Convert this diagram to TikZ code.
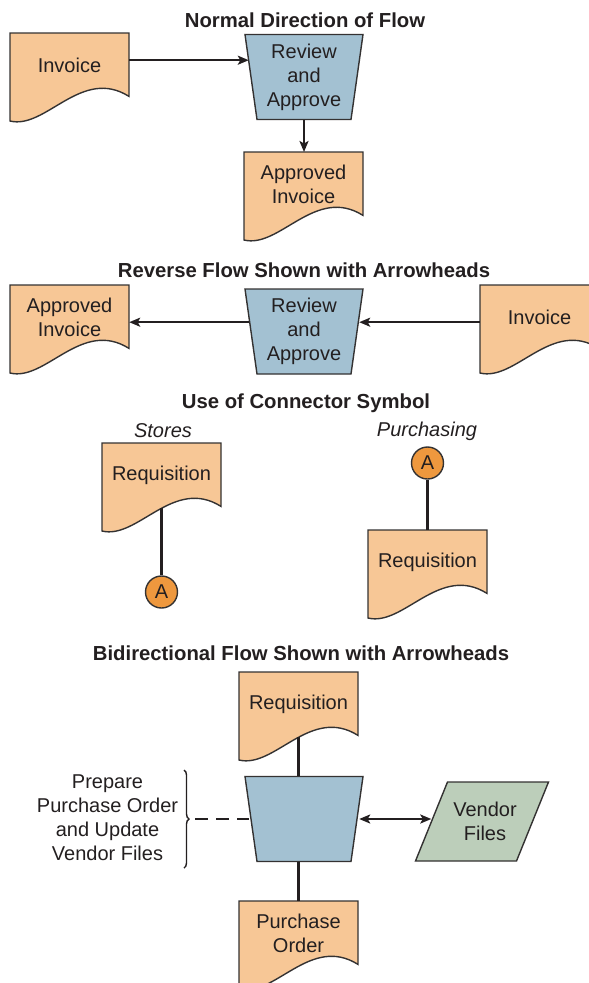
\documentclass[tikz,border=0pt]{standalone}
\usepackage{fontspec}
\setmainfont{Liberation Sans}
\usetikzlibrary{arrows.meta,decorations.pathreplacing}

\definecolor{docpeach}{RGB}{247,199,150}
\definecolor{procblue}{RGB}{163,193,210}
\definecolor{filegreen}{RGB}{188,206,186}
\definecolor{connorange}{RGB}{238,152,62}
\definecolor{edge}{RGB}{52,50,50}
\definecolor{ink}{RGB}{35,31,32}

\tikzset{
  shapeline/.style={draw=edge, line width=1.4pt},
  txt/.style={text=ink, font=\fontsize{20}{24}\selectfont, align=center, inner sep=0pt},
  heading/.style={text=ink, font=\bfseries\fontsize{20.3}{24}\selectfont, inner sep=0pt},
  dept/.style={text=ink, font=\itshape\fontsize{20}{24}\selectfont, inner sep=0pt},
  docbox/.style={txt, minimum width=119pt, minimum height=65pt, anchor=north},
  procbox/.style={txt, minimum width=110pt, minimum height=85pt},
  filebox/.style={txt, minimum width=107pt, minimum height=79pt},
  onpage/.style={txt, circle, draw=edge, line width=1.4pt, fill=connorange, minimum size=32pt},
  tip/.tip={Stealth[length=11pt,width=9pt,inset=2.5pt]},
  conn/.style={draw=ink, line width=2.4pt},
  flow/.style={conn, -tip},
  biflow/.style={conn, tip-tip},
}

% document symbol: name, top-left corner, text
\newcommand\docshape[3]{%
  \begin{scope}[shift={#2}]
    \path[shapeline, fill=docpeach] (0,0) -- (119,0) -- (119,63.4)
      .. controls (71.4,33.4) and (35.7,96.8) .. (0,88) -- cycle;
    \node[docbox] (#1) at (59.5,0) {#3};
  \end{scope}}

% manual operation symbol: name, centre, text
\newcommand\procshape[3]{%
  \begin{scope}[shift={#2}]
    \path[shapeline, fill=procblue] (-59,-42.5) -- (59,-42.5) -- (47,42.5) -- (-47,42.5) -- cycle;
    \node[procbox] (#1) at (0,0) {#3};
  \end{scope}}

\begin{document}
\begin{tikzpicture}[x=1pt, y=-1pt]
  \useasboundingbox (0,0) rectangle (589,983);

  % ---- normal direction of flow
  \node[heading] (t1) at (305,20) {Normal Direction of Flow};
  \docshape{inv1}{(10,33)}{Invoice}
  \procshape{ra1}{(304,77)}{Review\\and\\Approve}
  \docshape{ai1}{(244,152)}{Approved\\Invoice}
  \draw[flow] ([yshift=5.5pt]inv1.east) -- ([yshift=5.5pt]inv1.east -| ra1.west);
  \draw[flow] (ra1.south) -- (ra1.south |- ai1.north);

  % ---- reverse flow
  \node[heading] (t2) at (304,270) {Reverse Flow Shown with Arrowheads};
  \docshape{ai2}{(10,285)}{Approved\\Invoice}
  \procshape{ra2}{(304,331.5)}{Review\\and\\Approve}
  \docshape{inv2}{(480,285)}{Invoice}
  \draw[flow] ([yshift=-4.5pt]inv2.west) -- ([yshift=-4.5pt]inv2.west -| ra2.east);
  \draw[flow] ([yshift=-4.5pt]ai2.east -| ra2.west) -- ([yshift=-4.5pt]ai2.east);

  % ---- connector symbol
  \node[heading] (t3) at (306,403) {Use of Connector Symbol};
  \node[dept] (st) at (163,431) {Stores};
  \node[dept] (pu) at (427,431) {Purchasing};
  \docshape{sreq}{(102,443)}{Requisition}
  \node[onpage] (ca1) at (161.5,592) {A};
  \draw[conn] (sreq.south) -- (sreq.south |- ca1.north);
  \node[onpage] (ca2) at (427.5,463) {A};
  \docshape{preq}{(368,530)}{Requisition}
  \draw[conn] (ca2.south) -- (ca2.south |- preq.north);

  % ---- bidirectional flow
  \node[heading] (t4) at (301,653) {Bidirectional Flow Shown with Arrowheads};
  \docshape{req4}{(239,672)}{Requisition}
  \procshape{ra4}{(304,819)}{}
  \docshape{po}{(239,901)}{Purchase\\Order}
  \draw[conn] (req4.south) -- (req4.south |- ra4.north);
  \draw[conn] (ra4.south -| po.north) -- (po.north);

  \path[shapeline, fill=filegreen] (447.5,782) -- (548.5,782) -- (516.5,861) -- (415.5,861) -- cycle;
  \node[filebox] (vf) at (485,821) {Vendor\\Files};
  \draw[biflow] (ra4.east) -- (ra4.east -| vf.west);

  \node[txt] (prep) at (107.5,818) {Prepare\\Purchase Order\\and Update\\Vendor Files};
  \draw[draw=ink, line width=1.4pt, decorate, decoration={brace, amplitude=5pt}] (184,770) -- (184,868);
  \coordinate (bt) at (195,819);
  \draw[conn, dash pattern=on 13pt off 8pt] (bt) -- (ra4.west);
\end{tikzpicture}
\end{document}
